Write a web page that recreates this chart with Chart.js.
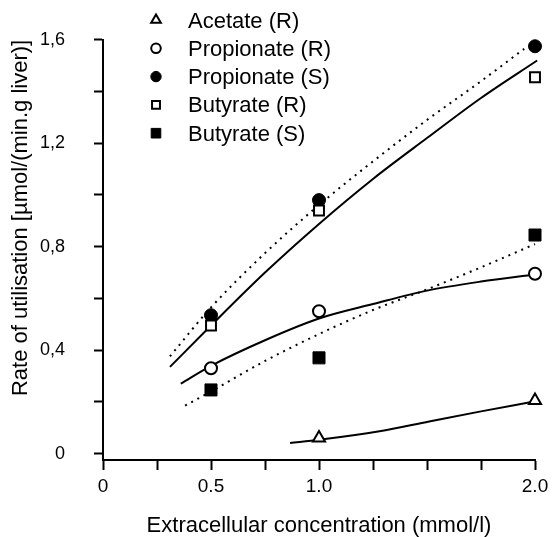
<!DOCTYPE html>
<html>
<head>
<meta charset="utf-8">
<script src="https://cdn.jsdelivr.net/npm/chart.js@4/dist/chart.umd.min.js"></script>
<style>
  body { margin: 0; background: #fff; }
</style>
</head>
<body>
<canvas id="myChart" width="554" height="537"></canvas>
<script>
// tick values and labels
const xTicks = [0, 0.25, 0.5, 0.75, 1.0, 1.25, 1.5, 1.75, 2.0];
const xTickLabels = ['0', '', '0.5', '', '1.0', '', '', '', '2.0'];
const yTicks = [0, 0.2, 0.4, 0.6, 0.8, 1.0, 1.2, 1.4, 1.6];
const yTickLabels = ['0', '', '0,4', '', '0,8', '', '1,2', '', '1,6'];

// measured points (mmol/l -> umol/(min.g liver))
const conc = [0.5, 1.0, 2.0];
const acetateConc = [1.0, 2.0];
const acetateR = [0.06, 0.205];
const propionateR = [0.33, 0.55, 0.695];
const propionateS = [0.535, 0.98, 1.575];
const butyrateR = [0.495, 0.94, 1.455];
const butyrateS = [0.246, 0.37, 0.845];

// fitted curves
const upperSolidX = [0.31, 0.5, 0.75, 1.0, 1.25, 1.5, 1.75, 2.01];
const upperSolidY = [0.335, 0.495, 0.7, 0.888, 1.062, 1.22, 1.375, 1.52];
const upperDotX = [0.31, 0.5, 0.75, 1.0, 1.25, 1.5, 1.75, 1.95];
const upperDotY = [0.376, 0.565, 0.775, 0.961, 1.13, 1.29, 1.44, 1.565];
const midSolidX = [0.36, 0.5, 0.75, 1.0, 1.25, 1.5, 1.75, 2.0];
const midSolidY = [0.27, 0.339, 0.438, 0.522, 0.578, 0.63, 0.665, 0.692];
const midDotX = [0.38, 0.5, 0.75, 1.0, 1.25, 1.5, 1.75, 2.0];
const midDotY = [0.185, 0.24, 0.358, 0.462, 0.555, 0.635, 0.72, 0.81];
const acetateFitX = [0.866, 1.0, 1.28, 1.51, 1.75, 1.99];
const acetateFitY = [0.041, 0.053, 0.086, 0.124, 0.163, 0.2];

const font = "'Liberation Sans', Arial, Helvetica, sans-serif";

function points(xs, ys) {
  return xs.map((x, i) => ({x: x, y: ys[i]}));
}

function markers(label, xs, ys, style, filled, radius, order) {
  return {
    label: label,
    data: points(xs, ys),
    pointStyle: style,
    pointRadius: radius,
    pointHoverRadius: radius,
    pointBackgroundColor: filled ? '#000' : '#fff',
    pointBorderColor: '#000',
    pointBorderWidth: filled ? 1 : 2,
    showLine: false,
    clip: 12,
    order: order
  };
}

function curve(xs, ys, dotted) {
  return {
    label: '',
    data: points(xs, ys),
    showLine: true,
    borderColor: '#000',
    borderWidth: 2,
    borderDash: dotted ? [2, 5] : [],
    pointRadius: 0,
    pointHoverRadius: 0,
    cubicInterpolationMode: 'monotone',
    clip: 6,
    order: 10
  };
}

const insetLegend = {
  id: 'insetLegend',
  afterDraw(chart) {
    const ctx = chart.ctx;
    ctx.save();
    ctx.font = '22px ' + font;
    ctx.textAlign = 'left';
    ctx.textBaseline = 'alphabetic';
    for (let i = 0; i < 5; i++) {
      const ds = chart.data.datasets[i];
      const y = 20 + i * 28.3;
      ctx.fillStyle = ds.pointBackgroundColor;
      ctx.strokeStyle = '#000';
      ctx.lineWidth = ds.pointBorderWidth;
      Chart.helpers.drawPoint(ctx, {
        pointStyle: ds.pointStyle,
        radius: ds.pointRadius * 0.8,
        rotation: 0,
        borderWidth: ds.pointBorderWidth
      }, 156, y);
      ctx.fillStyle = '#000';
      ctx.fillText(ds.label, 188, y + 7.5);
    }
    ctx.restore();
  }
};

const ctx = document.getElementById('myChart').getContext('2d');

const myChart = new Chart(ctx, {
  type: 'scatter',
  data: {
    datasets: [
      markers('Acetate (R)', acetateConc, acetateR, 'triangle', false, 7, 3),
      markers('Propionate (R)', conc, propionateR, 'circle', false, 6, 3),
      markers('Propionate (S)', conc, propionateS, 'circle', true, 6.5, 2),
      markers('Butyrate (R)', conc, butyrateR, 'rect', false, 7, 1),
      markers('Butyrate (S)', conc, butyrateS, 'rect', true, 8.5, 3),
      curve(upperSolidX, upperSolidY, false),
      curve(upperDotX, upperDotY, true),
      curve(midSolidX, midSolidY, false),
      curve(midDotX, midDotY, true),
      curve(acetateFitX, acetateFitY, false)
    ]
  },
  options: {
    responsive: false,
    animation: false,
    events: [],
    layout: { padding: { top: 22, right: 19, left: 0, bottom: 0 } },
    plugins: {
      legend: { display: false },
      tooltip: { enabled: false }
    },
    scales: {
      x: {
        type: 'linear',
        min: 0,
        max: 2,
        afterBuildTicks: s => { s.ticks = xTicks.map(v => ({value: v})); },
        afterFit: s => { s.height = 77; },
        grid: { drawOnChartArea: false, tickLength: 10, tickWidth: 2, tickColor: '#000' },
        border: { color: '#000', width: 2 },
        ticks: {
          color: '#000',
          font: { family: font, size: 19 },
          padding: 5,
          maxRotation: 0,
          autoSkip: false,
          callback: (v, i) => xTickLabels[i]
        },
        title: {
          display: true,
          text: 'Extracellular concentration (mmol/l)',
          color: '#000',
          font: { family: font, size: 22, lineHeight: 1 },
          padding: 0
        }
      },
      y: {
        type: 'linear',
        min: -0.025,
        max: 1.6,
        afterBuildTicks: s => { s.ticks = yTicks.map(v => ({value: v})); },
        afterFit: s => { s.width = 103; },
        grid: { drawOnChartArea: false, tickLength: 9, tickWidth: 2, tickColor: '#000' },
        border: { color: '#000', width: 2 },
        ticks: {
          color: '#000',
          font: { family: font, size: 18 },
          padding: 29,
          autoSkip: false,
          callback: (v, i) => yTickLabels[i]
        },
        title: {
          display: true,
          text: 'Rate of utilisation [µmol/(min.g liver)]',
          color: '#000',
          align: 'end',
          font: { family: font, size: 22, lineHeight: 1 },
          padding: { top: 10, bottom: 0 }
        }
      }
    }
  },
  plugins: [insetLegend]
});
</script>
</body>
</html>
